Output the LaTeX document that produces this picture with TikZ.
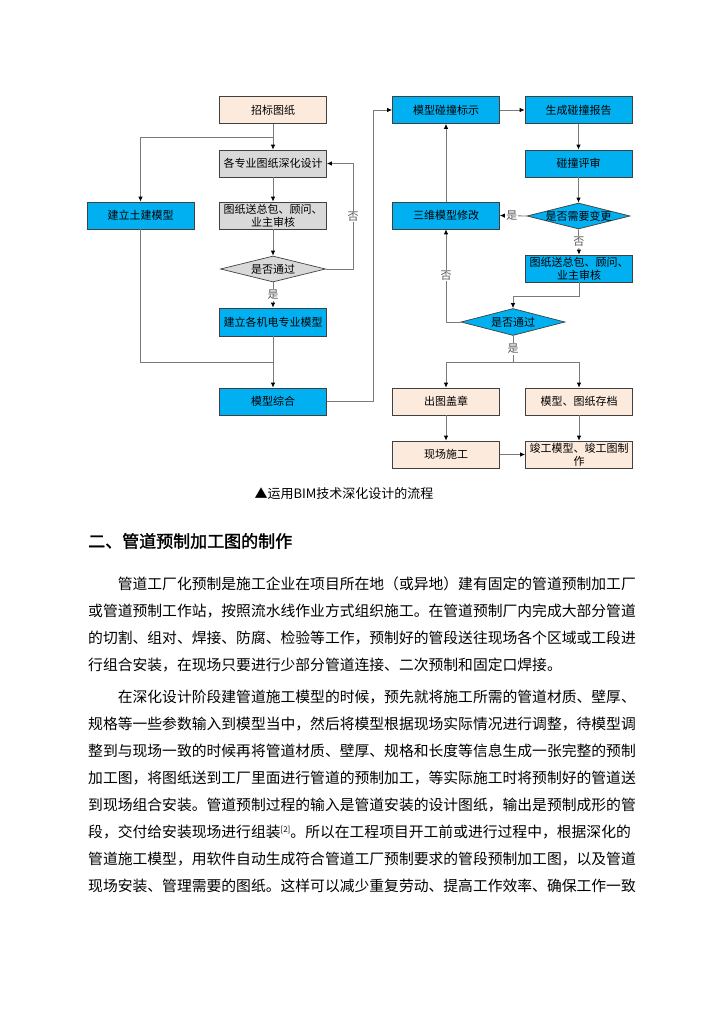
\documentclass[tikz,border=0pt]{standalone}
\usepackage{fontspec}
\setmainfont{Noto Sans CJK SC}
\newfontfamily\cjkb{Noto Sans CJK SC}[FakeBold=1.6]
\usetikzlibrary{arrows.meta,shapes.geometric}
\definecolor{boxblue}{HTML}{00B0F0}
\definecolor{boxgray}{HTML}{D9D9D9}
\definecolor{boxpeach}{HTML}{FCEADC}
\definecolor{linegray}{HTML}{7A7A7A}
\tikzset{
  box/.style={draw=black!75, line width=0.7pt, minimum width=107pt, minimum height=27pt,
    inner sep=0pt, align=center, font=\fontsize{11}{13}\selectfont},
  bluebox/.style={box, fill=boxblue},
  graybox/.style={box, fill=boxgray},
  peachbox/.style={box, fill=boxpeach},
  dia/.style={diamond, draw=black!75, line width=0.7pt, minimum width=105pt, minimum height=26pt,
    inner sep=0pt},
  conn/.style={draw=linegray, line width=0.8pt},
  arr/.style={conn, -{Latex[length=5pt,width=4.5pt,black]}},
  yn/.style={fill=white, inner sep=1pt, text=black!65, font=\fontsize{11}{12}\selectfont},
  bodyline/.style={anchor=west, inner sep=0pt, font=\fontsize{14.8}{16}\selectfont},
}
\begin{document}
\begin{tikzpicture}[x=1pt,y=-1pt]
\useasboundingbox (0,0) rectangle (724,1024);
\fill[white] (0,0) rectangle (724,1024);

% ---------- left column ----------
\node[peachbox] (zb) at (273,110) {招标图纸};
\node[graybox] (gz) at (273,163.5) {各专业图纸深化设计};
\node[graybox] (ts1) at (273,215.5) {图纸送总包、顾问、\\业主审核};
\node[bluebox] (tj) at (140.5,215.5) {建立土建模型};
\node[dia, fill=boxgray, label={[font=\fontsize{11}{13}\selectfont]center:是否通过}] (d1) at (273,269) {};
\node[bluebox, minimum height=28pt] (jd) at (273,322) {建立各机电专业模型};
\node[bluebox] (mz) at (273,401.5) {模型综合};

% ---------- right column ----------
\node[bluebox] (pz) at (446,110) {模型碰撞标示};
\node[bluebox] (bg) at (578.5,110) {生成碰撞报告};
\node[bluebox] (ps) at (578.5,163.5) {碰撞评审};
\node[dia, fill=boxblue, minimum width=103pt, label={[font=\fontsize{11}{13}\selectfont]center:是否需要变更}] (d2) at (578.5,216) {};
\node[bluebox] (sw) at (446,215.5) {三维模型修改};
\node[bluebox] (ts2) at (579,268.5) {图纸送总包、顾问、\\业主审核};
\node[dia, fill=boxblue, minimum width=104pt, minimum height=27pt, label={[font=\fontsize{11}{13}\selectfont]center:是否通过}] (d3) at (513,322) {};
\node[peachbox] (ct) at (446,401.5) {出图盖章};
\node[peachbox] (mc) at (579,401.5) {模型、图纸存档};
\node[peachbox] (xc) at (446,454.5) {现场施工};
\node[peachbox] (jg) at (579,454.5) {竣工模型、竣工图制\\作};

% ---------- helper coordinates ----------
\coordinate (c1) at (273,137);
\coordinate (c2) at (273,362);
\coordinate (c3) at (373,401.5);
\coordinate (c4) at (513,296);
\coordinate (c5) at (513,362);
\coordinate (c6) at (353,269);

% ---------- connectors left ----------
\draw[arr] (zb) -- (gz);
\draw[arr] (c1) -| (tj.north);
\draw[arr] (gz) -- (ts1);
\draw[arr] (ts1) -- (d1);
\draw[arr] (d1.east) -- (c6) |- (gz.east) node[yn, pos=0.25] {否};
\draw[arr] (d1.south) -- (jd.north) node[yn, midway] {是};
\draw[arr] (jd) -- (mz);
\draw[conn] (tj.south) |- (c2);
\draw[arr] (mz.east) -- (c3) |- (pz.west);

% ---------- connectors right ----------
\draw[arr] (pz) -- (bg);
\draw[arr] (bg) -- (ps);
\draw[arr] (ps) -- (d2);
\draw[arr] (d2.west) -- (sw.east) node[yn, pos=0.55] {是};
\draw[arr] (sw) -- (pz);
\draw[arr] (d2.south) -- (ts2.north) node[yn, midway] {否};
\draw[arr] (ts2.south) |- (c4) -- (d3.north);
\draw[arr] (d3.west) -| (sw.south) node[yn, pos=0.75] {否};
\draw[conn] (d3.south) -- (c5) node[yn, midway] {是};
\draw[arr] (c5) -| (ct.north);
\draw[arr] (c5) -| (mc.north);
\draw[arr] (ct) -- (xc);
\draw[arr] (mc) -- (jg);
\draw[arr] (xc) -- (jg);

% ---------- caption and heading ----------
\node[inner sep=0pt, font=\fontsize{13}{15}\selectfont] (cap) at (344,494) {▲运用BIM技术深化设计的流程};
\node[anchor=west, inner sep=0pt, font=\cjkb\fontsize{17}{19}\selectfont] (hd) at (88,541) {二、管道预制加工图的制作};

% ---------- body text ----------
\node[bodyline] (p1) at (117.6,584) {管道工厂化预制是施工企业在项目所在地（或异地）建有固定的管道预制加工厂};
\node[bodyline] (p2) at (88,611) {或管道预制工作站，按照流水线作业方式组织施工。在管道预制厂内完成大部分管道};
\node[bodyline] (p3) at (88,638) {的切割、组对、焊接、防腐、检验等工作，预制好的管段送往现场各个区域或工段进};
\node[bodyline] (p4) at (88,665) {行组合安装，在现场只要进行少部分管道连接、二次预制和固定口焊接。};
\node[bodyline] (q1) at (117.6,697) {在深化设计阶段建管道施工模型的时候，预先就将施工所需的管道材质、壁厚、};
\node[bodyline] (q2) at (88,724) {规格等一些参数输入到模型当中，然后将模型根据现场实际情况进行调整，待模型调};
\node[bodyline] (q3) at (88,751) {整到与现场一致的时候再将管道材质、壁厚、规格和长度等信息生成一张完整的预制};
\node[bodyline] (q4) at (88,778) {加工图，将图纸送到工厂里面进行管道的预制加工，等实际施工时将预制好的管道送};
\node[bodyline] (q5) at (88,805) {到现场组合安装。管道预制过程的输入是管道安装的设计图纸，输出是预制成形的管};
\node[bodyline] (q6) at (88,832) {段，交付给安装现场进行组装\raisebox{5pt}{\fontsize{8}{8}\selectfont[2]}。所以在工程项目开工前或进行过程中，根据深化的};
\node[bodyline] (q7) at (88,859) {管道施工模型，用软件自动生成符合管道工厂预制要求的管段预制加工图，以及管道};
\node[bodyline] (q8) at (88,886) {现场安装、管理需要的图纸。这样可以减少重复劳动、提高工作效率、确保工作一致};
\end{tikzpicture}
\end{document}
